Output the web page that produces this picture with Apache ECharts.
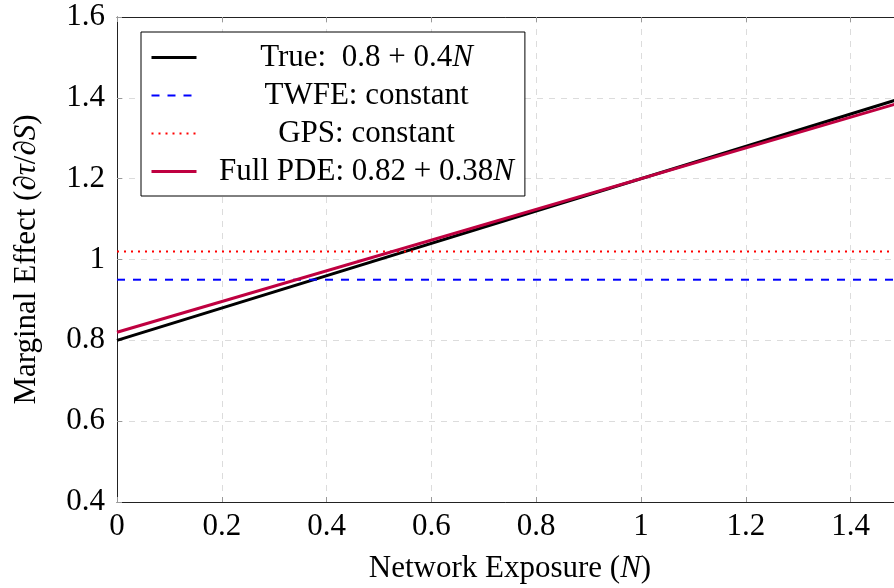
<!DOCTYPE html>
<html>
<head>
<meta charset="utf-8">
<script src="https://cdn.jsdelivr.net/npm/echarts@6/dist/echarts.min.js"></script>
<style>html,body{margin:0;padding:0;background:#fff}#c{width:894px;height:588px}</style>
</head>
<body>
<div id="c"></div>
<script>
// Data
var exposure = [0, 1.5];
var trueEffect = [0.8, 1.4];
var twfeEffect = [0.95, 0.95];
var gpsEffect = [1.02, 1.02];
var pdeEffect = [0.82, 1.39];
var seriesNames = ['True', 'TWFE', 'GPS', 'Full PDE'];
var legendLabels = {
  'True': '{r|True:  0.8 + 0.4}{i|N}',
  'TWFE': '{r|TWFE: constant}',
  'GPS': '{r|GPS: constant}',
  'Full PDE': '{r|Full PDE: 0.82 + 0.38}{i|N}'
};
var xTicks = [0, 0.2, 0.4, 0.6, 0.8, 1, 1.2, 1.4];
var yTicks = [0.4, 0.6, 0.8, 1, 1.2, 1.4, 1.6];

var FONT = 'Liberation Serif';
function pairs(xs, ys) { return xs.map(function (x, i) { return [x, ys[i]]; }); }

var lineWidths = {'True': 3, 'TWFE': 2, 'GPS': 2, 'Full PDE': 3};

var chart = echarts.init(document.getElementById('c'), null, {renderer: 'canvas'});
var gridLine = {show: true, lineStyle: {color: '#dcdcdc', type: [6, 6], width: 1}};
var option = {
  animation: false,
  backgroundColor: '#fff',
  grid: {left: 117, top: 17, width: 786, height: 485, containLabel: false, outerBoundsMode: 'none'},
  legend: {
    left: 141, top: 32, orient: 'vertical',
    backgroundColor: '#fff', borderColor: '#000', borderWidth: 1,
    padding: [10, 11, 9, 9], itemGap: 7, itemWidth: 45, itemHeight: 14,
    data: seriesNames.map(function (n) { return {name: n, lineStyle: {width: lineWidths[n]}}; }),
    itemStyle: {color: 'rgba(0,0,0,0)', borderWidth: 0, opacity: 0},
    formatter: function (n) { return legendLabels[n]; },
    textStyle: {
      width: 330, fontFamily: FONT, fontSize: 31, color: '#000',
      rich: {
        r: {fontFamily: FONT, fontSize: 31, align: 'center', lineHeight: 30, color: '#000'},
        i: {fontFamily: FONT, fontSize: 31, fontStyle: 'italic', align: 'center', lineHeight: 30, color: '#000'}
      }
    }
  },
  xAxis: [{
    type: 'value', min: 0, max: 1.5, interval: 0.2,
    name: '{r|Network Exposure (}{i|N}{r|)}', nameLocation: 'middle', nameGap: 51,
    nameTextStyle: {rich: {
      r: {fontFamily: FONT, fontSize: 31, color: '#000'},
      i: {fontFamily: FONT, fontSize: 31, fontStyle: 'italic', color: '#000'}
    }},
    axisLine: {show: true, onZero: false, lineStyle: {color: '#222', width: 1}},
    axisTick: {show: true, inside: true, length: 5, lineStyle: {color: '#999'}},
    axisLabel: {
      fontFamily: FONT, fontSize: 31, color: '#000', margin: 9, showMaxLabel: false,
      formatter: function (v) { var r = Math.round(v * 10) / 10; return xTicks.indexOf(r) >= 0 ? String(r) : ''; }
    },
    splitLine: gridLine
  }, {
    type: 'value', position: 'top', min: 0, max: 1.5, interval: 0.2,
    axisLine: {show: true, onZero: false, lineStyle: {color: '#222', width: 1}},
    axisTick: {show: true, inside: true, length: 5, lineStyle: {color: '#999'}},
    axisLabel: {show: false}, splitLine: {show: false}
  }],
  yAxis: {
    type: 'value', min: 0.4, max: 1.6, interval: 0.2,
    name: '{r|Marginal Effect (∂}{i|τ}{r|/∂}{i|S}{r|)}', nameLocation: 'middle', nameGap: 75, nameRotate: 90,
    nameTextStyle: {rich: {
      r: {fontFamily: FONT, fontSize: 31, color: '#000'},
      i: {fontFamily: FONT, fontSize: 31, fontStyle: 'italic', color: '#000'}
    }},
    axisLine: {show: true, onZero: false, lineStyle: {color: '#222', width: 1}},
    axisTick: {show: true, inside: true, length: 5, lineStyle: {color: '#999'}},
    axisLabel: {
      fontFamily: FONT, fontSize: 31, color: '#000', margin: 12,
      formatter: function (v) { var r = Math.round(v * 10) / 10; return yTicks.indexOf(r) >= 0 ? String(r) : ''; }
    },
    splitLine: gridLine
  },
  series: [
    {name: 'True', type: 'line', symbol: 'none', data: pairs(exposure, trueEffect),
     lineStyle: {color: '#000', width: 3}, itemStyle: {color: '#000'}},
    {name: 'TWFE', type: 'line', symbol: 'none', data: pairs(exposure, twfeEffect),
     lineStyle: {color: '#0000ff', width: 2, type: [8, 8]}, itemStyle: {color: '#0000ff'}},
    {name: 'GPS', type: 'line', symbol: 'none', data: pairs(exposure, gpsEffect),
     lineStyle: {color: '#ff0000', width: 2, type: [2, 5]}, itemStyle: {color: '#ff0000'}},
    {name: 'Full PDE', type: 'line', symbol: 'none', data: pairs(exposure, pdeEffect),
     lineStyle: {color: '#bf0040', width: 3}, itemStyle: {color: '#bf0040'}}
  ]
};
chart.setOption(option);
</script>
</body>
</html>
